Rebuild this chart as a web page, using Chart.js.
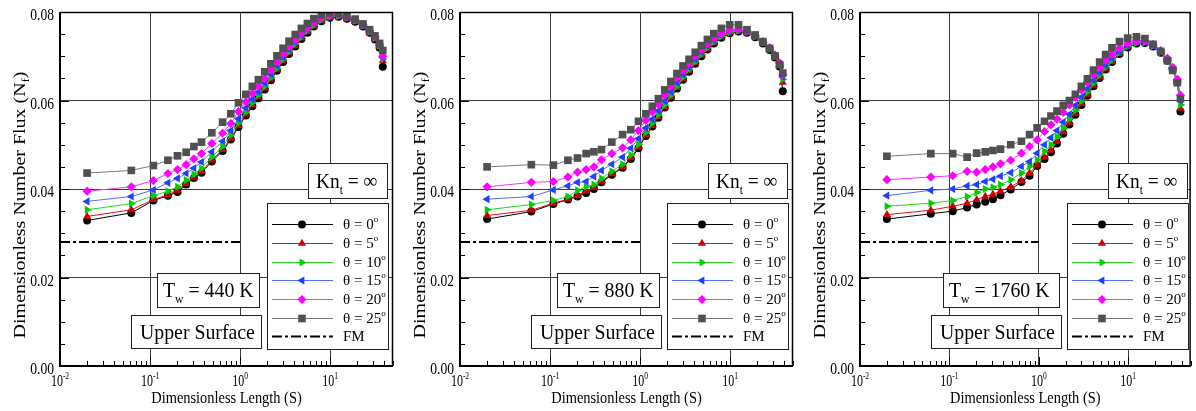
<!DOCTYPE html>
<html>
<head>
<meta charset="utf-8">
<script src="https://cdn.jsdelivr.net/npm/chart.js@4.4.1/dist/chart.umd.min.js"></script>
<style>
  html, body { margin: 0; padding: 0; background: #fff; }
  #wrap { position: relative; width: 1196px; height: 411px; overflow: hidden; }
  canvas { position: absolute; top: 0; }
</style>
</head>
<body>
<div id="wrap">
  <canvas id="p440" width="400" height="411" style="left:0px"></canvas>
  <canvas id="p880" width="400" height="411" style="left:400px"></canvas>
  <canvas id="p1760" width="396" height="411" style="left:800px"></canvas>
</div>
<script>
// Dimensionless length along the surface (shared by every curve)
const S = [0.02, 0.062, 0.109, 0.158, 0.202, 0.252, 0.307, 0.373, 0.486, 0.64,
           0.79, 0.96, 1.16, 1.37, 1.6, 1.88, 2.2, 2.57, 3.0, 3.5,
           4.1, 4.8, 5.6, 6.6, 8.0, 9.9, 12.4, 15.4, 19.0, 23.2,
           27.5, 31.5, 35.5, 38.5];

// Free molecular reference level
const FM_S = [0.01, 1];
const FM_N = [0.028, 0.028];

const ANGLES = [0, 5, 10, 15, 20, 25];
const X_TICKS = [0.01, 0.1, 1, 10];
const Y_TICKS = [0, 0.02, 0.04, 0.06, 0.08];

// Tw = 440 K
const N440_0  = [0.0329, 0.0346, 0.0374, 0.0385, 0.0393, 0.0410, 0.0425, 0.0437, 0.0462, 0.0486, 0.0512, 0.0540, 0.0566, 0.0587, 0.0605, 0.0625, 0.0646, 0.0667, 0.0687, 0.0705, 0.0722, 0.0739, 0.0753, 0.0767, 0.0779, 0.0787, 0.0789, 0.0785, 0.0778, 0.0767, 0.0753, 0.0738, 0.0719, 0.0676];
const N440_5  = [0.0338, 0.0353, 0.0376, 0.0387, 0.0397, 0.0412, 0.0427, 0.0440, 0.0465, 0.0489, 0.0515, 0.0543, 0.0569, 0.0590, 0.0608, 0.0628, 0.0648, 0.0669, 0.0689, 0.0707, 0.0724, 0.0741, 0.0755, 0.0768, 0.0780, 0.0788, 0.0790, 0.0786, 0.0779, 0.0768, 0.0754, 0.0740, 0.0722, 0.0690];
const N440_10 = [0.0353, 0.0367, 0.0385, 0.0395, 0.0405, 0.0420, 0.0433, 0.0447, 0.0472, 0.0496, 0.0522, 0.0549, 0.0574, 0.0595, 0.0612, 0.0632, 0.0652, 0.0673, 0.0692, 0.0710, 0.0727, 0.0743, 0.0757, 0.0770, 0.0782, 0.0789, 0.0791, 0.0787, 0.0780, 0.0769, 0.0755, 0.0741, 0.0724, 0.0694];
const N440_15 = [0.0372, 0.0383, 0.0398, 0.0414, 0.0424, 0.0435, 0.0447, 0.0461, 0.0484, 0.0508, 0.0532, 0.0559, 0.0583, 0.0603, 0.0620, 0.0639, 0.0659, 0.0679, 0.0698, 0.0715, 0.0731, 0.0747, 0.0760, 0.0773, 0.0784, 0.0791, 0.0792, 0.0788, 0.0781, 0.0770, 0.0756, 0.0742, 0.0725, 0.0697];
const N440_20 = [0.0395, 0.0405, 0.0419, 0.0435, 0.0444, 0.0455, 0.0468, 0.0480, 0.0503, 0.0526, 0.0548, 0.0575, 0.0597, 0.0616, 0.0632, 0.0650, 0.0669, 0.0688, 0.0706, 0.0722, 0.0737, 0.0752, 0.0764, 0.0776, 0.0787, 0.0793, 0.0794, 0.0789, 0.0782, 0.0772, 0.0758, 0.0744, 0.0727, 0.0700];
const N440_25 = [0.0436, 0.0442, 0.0453, 0.0465, 0.0475, 0.0483, 0.0496, 0.0506, 0.0527, 0.0551, 0.0570, 0.0595, 0.0614, 0.0632, 0.0647, 0.0665, 0.0683, 0.0701, 0.0718, 0.0734, 0.0749, 0.0763, 0.0774, 0.0785, 0.0794, 0.0798, 0.0797, 0.0791, 0.0784, 0.0773, 0.0760, 0.0746, 0.0729, 0.0713];

// Tw = 880 K
const N880_0  = [0.0332, 0.0349, 0.0366, 0.0376, 0.0383, 0.0391, 0.0400, 0.0415, 0.0432, 0.0448, 0.0468, 0.0492, 0.0520, 0.0541, 0.0561, 0.0584, 0.0606, 0.0627, 0.0647, 0.0665, 0.0683, 0.0700, 0.0715, 0.0729, 0.0742, 0.0752, 0.0756, 0.0753, 0.0743, 0.0729, 0.0714, 0.0697, 0.0677, 0.0621];
const N880_5  = [0.0340, 0.0352, 0.0368, 0.0377, 0.0385, 0.0395, 0.0403, 0.0418, 0.0434, 0.0450, 0.0471, 0.0495, 0.0522, 0.0543, 0.0563, 0.0586, 0.0608, 0.0629, 0.0649, 0.0667, 0.0685, 0.0702, 0.0716, 0.0730, 0.0743, 0.0753, 0.0757, 0.0754, 0.0744, 0.0730, 0.0715, 0.0699, 0.0680, 0.0641];
const N880_10 = [0.0353, 0.0365, 0.0374, 0.0383, 0.0397, 0.0405, 0.0410, 0.0424, 0.0440, 0.0456, 0.0477, 0.0501, 0.0528, 0.0549, 0.0568, 0.0590, 0.0612, 0.0632, 0.0652, 0.0670, 0.0687, 0.0704, 0.0719, 0.0732, 0.0745, 0.0754, 0.0758, 0.0755, 0.0745, 0.0731, 0.0716, 0.0700, 0.0682, 0.0648];
const N880_15 = [0.0377, 0.0383, 0.0398, 0.0407, 0.0415, 0.0417, 0.0428, 0.0442, 0.0456, 0.0472, 0.0492, 0.0514, 0.0538, 0.0558, 0.0577, 0.0599, 0.0620, 0.0640, 0.0659, 0.0676, 0.0693, 0.0709, 0.0723, 0.0736, 0.0747, 0.0756, 0.0759, 0.0756, 0.0746, 0.0732, 0.0717, 0.0701, 0.0683, 0.0653];
const N880_20 = [0.0405, 0.0415, 0.0417, 0.0427, 0.0438, 0.0444, 0.0450, 0.0466, 0.0480, 0.0493, 0.0511, 0.0532, 0.0555, 0.0574, 0.0592, 0.0612, 0.0632, 0.0651, 0.0668, 0.0684, 0.0700, 0.0715, 0.0728, 0.0740, 0.0751, 0.0759, 0.0761, 0.0757, 0.0747, 0.0733, 0.0719, 0.0703, 0.0685, 0.0659];
const N880_25 = [0.0450, 0.0455, 0.0454, 0.0465, 0.0470, 0.0480, 0.0484, 0.0489, 0.0506, 0.0523, 0.0534, 0.0553, 0.0570, 0.0587, 0.0604, 0.0624, 0.0643, 0.0661, 0.0678, 0.0693, 0.0709, 0.0724, 0.0738, 0.0751, 0.0763, 0.0771, 0.0771, 0.0760, 0.0748, 0.0733, 0.0718, 0.0701, 0.0681, 0.0662];

// Tw = 1760 K
const N1760_0  = [0.0332, 0.0344, 0.0350, 0.0358, 0.0365, 0.0371, 0.0377, 0.0386, 0.0399, 0.0416, 0.0430, 0.0452, 0.0468, 0.0483, 0.0503, 0.0525, 0.0546, 0.0568, 0.0590, 0.0611, 0.0632, 0.0651, 0.0670, 0.0687, 0.0705, 0.0720, 0.0729, 0.0730, 0.0722, 0.0708, 0.0690, 0.0670, 0.0642, 0.0575];
const N1760_5  = [0.0342, 0.0352, 0.0361, 0.0368, 0.0376, 0.0383, 0.0388, 0.0395, 0.0405, 0.0419, 0.0436, 0.0455, 0.0472, 0.0487, 0.0507, 0.0529, 0.0550, 0.0571, 0.0593, 0.0614, 0.0634, 0.0653, 0.0671, 0.0688, 0.0706, 0.0721, 0.0730, 0.0731, 0.0723, 0.0709, 0.0691, 0.0671, 0.0643, 0.0582];
const N1760_10 = [0.0361, 0.0368, 0.0374, 0.0383, 0.0392, 0.0400, 0.0404, 0.0410, 0.0421, 0.0436, 0.0451, 0.0466, 0.0485, 0.0500, 0.0518, 0.0538, 0.0558, 0.0578, 0.0599, 0.0619, 0.0639, 0.0657, 0.0675, 0.0691, 0.0708, 0.0722, 0.0730, 0.0731, 0.0723, 0.0709, 0.0691, 0.0671, 0.0644, 0.0590];
const N1760_15 = [0.0385, 0.0397, 0.0400, 0.0407, 0.0410, 0.0417, 0.0422, 0.0429, 0.0437, 0.0451, 0.0462, 0.0481, 0.0500, 0.0516, 0.0532, 0.0551, 0.0569, 0.0589, 0.0608, 0.0627, 0.0646, 0.0663, 0.0680, 0.0695, 0.0710, 0.0723, 0.0731, 0.0732, 0.0724, 0.0710, 0.0692, 0.0672, 0.0645, 0.0600];
const N1760_20 = [0.0421, 0.0427, 0.0430, 0.0440, 0.0438, 0.0444, 0.0450, 0.0457, 0.0465, 0.0481, 0.0496, 0.0511, 0.0530, 0.0545, 0.0558, 0.0573, 0.0590, 0.0607, 0.0624, 0.0641, 0.0659, 0.0675, 0.0690, 0.0704, 0.0718, 0.0729, 0.0735, 0.0735, 0.0727, 0.0713, 0.0695, 0.0675, 0.0648, 0.0612];
const N1760_25 = [0.0474, 0.0480, 0.0480, 0.0472, 0.0481, 0.0484, 0.0487, 0.0490, 0.0500, 0.0508, 0.0523, 0.0538, 0.0553, 0.0565, 0.0576, 0.0589, 0.0600, 0.0614, 0.0632, 0.0649, 0.0669, 0.0687, 0.0704, 0.0719, 0.0733, 0.0741, 0.0744, 0.0740, 0.0727, 0.0711, 0.0690, 0.0668, 0.0640, 0.0604];

const FONT = '"Liberation Serif", "Times New Roman", serif';

// marker / line style per angle
const STYLE = [
  { fill: '#000000', line: '#000000', shape: 'circle',   rot: 0,   r: 4.0 },
  { fill: '#d00000', line: '#e01010', shape: 'triangle', rot: 0,   r: 4.7 },
  { fill: '#00cc00', line: '#20d820', shape: 'triangle', rot: 90,  r: 4.7 },
  { fill: '#2040ff', line: '#5070ff', shape: 'triangle', rot: 270, r: 4.7 },
  { fill: '#ff00ff', line: '#ff30ff', shape: 'rectRot',  rot: 0,   r: 4.6 },
  { fill: '#505050', line: '#7a7a7a', shape: 'rect',     rot: 0,   r: 5.4 }
];

// draws a run of text pieces (sub/superscripts via dy), squeezed horizontally
function drawRich(ctx, segs, x, y, align, squeeze, rot) {
  ctx.save();
  ctx.translate(x, y);
  if (rot) {
    ctx.rotate(rot);
    ctx.scale(1, squeeze);
  } else {
    ctx.scale(squeeze, 1);
  }
  ctx.textBaseline = 'alphabetic';
  ctx.textAlign = 'left';
  ctx.fillStyle = '#000';
  let w = 0;
  segs.forEach(s => { ctx.font = s.size + 'px ' + FONT; w += ctx.measureText(s.t).width; });
  let cx = align === 'center' ? -w / 2 : (align === 'right' ? -w : 0);
  segs.forEach(s => {
    ctx.font = s.size + 'px ' + FONT;
    ctx.fillText(s.t, cx, s.dy || 0);
    cx += ctx.measureText(s.t).width;
  });
  ctx.restore();
}

function drawBox(ctx, x0, y0, x1, y1) {
  ctx.save();
  ctx.fillStyle = '#fff';
  ctx.fillRect(x0, y0, x1 - x0, y1 - y0);
  ctx.strokeStyle = '#222';
  ctx.lineWidth = 1;
  ctx.strokeRect(x0 + 0.5, y0 + 0.5, x1 - x0, y1 - y0);
  ctx.restore();
}

function hline(ctx, x0, y0, x1, y1) {
  ctx.beginPath();
  ctx.moveTo(x0, y0);
  ctx.lineTo(x1, y1);
  ctx.stroke();
}

// frame, inward ticks, tick labels, titles, annotation boxes and legend
const decor = {
  id: 'decor',
  afterDraw(chart, args, opts) {
    const ctx = chart.ctx;
    const a = chart.chartArea;
    const xs = chart.scales.x;
    const ys = chart.scales.y;
    ctx.save();
    ctx.strokeStyle = '#000';

    // minor / major ticks pointing inward
    ctx.lineWidth = 1;
    for (let d = -2; d <= 1; d++) {
      for (let m = 1; m <= 9; m++) {
        const v = m * Math.pow(10, d);
        if (v > xs.max) continue;
        const px = Math.round(xs.getPixelForValue(v)) + 0.5;
        hline(ctx, px, a.bottom, px, a.bottom - (m === 1 ? 9 : 5));
      }
    }
    for (let k = 0; k <= 16; k++) {
      const py = Math.round(ys.getPixelForValue(k * 0.005)) + 0.5;
      hline(ctx, a.left, py, a.left + (k % 4 === 0 ? 9 : 5), py);
    }

    // frame
    ctx.lineWidth = 1.5;
    hline(ctx, a.left, a.top + 0.5, a.right, a.top + 0.5);
    hline(ctx, a.right - 0.5, a.top, a.right - 0.5, a.bottom);
    ctx.lineWidth = 2;
    hline(ctx, a.left - 1, a.bottom, a.right, a.bottom);
    hline(ctx, a.left, a.top, a.left, a.bottom + 1);

    // tick labels
    Y_TICKS.forEach(v => {
      drawRich(ctx, [{ t: v.toFixed(2), size: 17 }], a.left - 6, ys.getPixelForValue(v) + 8, 'right', 0.8);
    });
    X_TICKS.forEach(v => {
      const e = Math.round(Math.log10(v));
      drawRich(ctx, [{ t: '10', size: 16 }, { t: String(e), size: 10, dy: -7 }],
        xs.getPixelForValue(v), 386, 'center', 0.75);
    });

    // axis titles
    drawRich(ctx, [{ t: 'Dimensionless Length (S)', size: 16 }], (a.left + a.right) / 2, 403, 'center', 0.9);
    drawRich(ctx, [{ t: 'Dimensionless Number Flux (N', size: 20 }, { t: 'f', size: 12, dy: 5 }, { t: ')', size: 20 }],
      25, 205, 'center', 0.8, -Math.PI / 2);

    // annotation boxes
    drawBox(ctx, 308, 163, 387, 198);
    drawRich(ctx, [{ t: 'Kn', size: 22 }, { t: 't', size: 13, dy: 6 }, { t: ' = ∞', size: 22 }], 316, 188, 'left', 0.88);

    drawBox(ctx, opts.twLeft, 273, 259, 307);
    drawRich(ctx, [{ t: 'T', size: 22 }, { t: 'w', size: 13, dy: 6 }, { t: ' = ' + opts.temp + ' K', size: 22 }],
      opts.twLeft + 6, 297, 'left', 0.9);

    drawBox(ctx, 131, 315, 261, 348);
    drawRich(ctx, [{ t: 'Upper Surface', size: 22 }], 140, 339, 'left', 0.9);

    // legend
    drawBox(ctx, 267, 203, 388, 349);
    const rowY = k => 224.3 + k * 18.67;
    STYLE.forEach((st, k) => {
      const y = Math.round(rowY(k)) + 0.5;
      ctx.strokeStyle = st.line;
      ctx.lineWidth = 1;
      hline(ctx, 272, y, 333, y);
      ctx.fillStyle = st.fill;
      Chart.helpers.drawPoint(ctx, { pointStyle: st.shape, rotation: st.rot, radius: st.r, borderWidth: 0 }, 302, y);
      drawRich(ctx, [{ t: 'θ = ' + ANGLES[k], size: 15 }, { t: 'o', size: 9, dy: -7 }], 343, rowY(k) + 5, 'left', 1);
    });
    const fy = Math.round(rowY(6)) + 0.5;
    ctx.strokeStyle = '#000';
    ctx.lineWidth = 2;
    ctx.setLineDash([10, 3, 3, 3]);
    hline(ctx, 272, fy, 333, fy);
    ctx.setLineDash([]);
    drawRich(ctx, [{ t: 'FM', size: 15 }], 343, rowY(6) + 5, 'left', 1);

    ctx.restore();
  }
};

function makePanel(id, temp, series, rightPad, twLeft) {
  const datasets = series.map((vals, i) => ({
    label: 'θ = ' + ANGLES[i],
    data: S.map((s, j) => ({ x: s, y: vals[j] })),
    borderColor: STYLE[i].line,
    backgroundColor: STYLE[i].fill,
    pointBackgroundColor: STYLE[i].fill,
    pointBorderColor: STYLE[i].fill,
    pointBorderWidth: 0,
    pointStyle: STYLE[i].shape,
    pointRotation: STYLE[i].rot,
    pointRadius: STYLE[i].r,
    borderWidth: 1,
    tension: 0,
    order: 6 - i
  }));
  datasets.push({
    label: 'FM',
    data: FM_S.map((s, j) => ({ x: s, y: FM_N[j] })),
    borderColor: '#000',
    borderWidth: 2,
    borderDash: [10, 3, 3, 3],
    pointRadius: 0,
    order: 7
  });

  const gridOpts = { color: '#3c3c3c', lineWidth: 1, drawTicks: false };

  return new Chart(document.getElementById(id), {
    type: 'line',
    data: { datasets: datasets },
    options: {
      responsive: false,
      animation: false,
      devicePixelRatio: 1,
      layout: { padding: { left: 0, right: rightPad, top: 12, bottom: 0 } },
      plugins: {
        legend: { display: false },
        tooltip: { enabled: false },
        decor: { temp: temp, twLeft: twLeft }
      },
      scales: {
        x: {
          type: 'logarithmic',
          min: 0.01,
          max: 50,
          afterBuildTicks: s => { s.ticks = X_TICKS.map(v => ({ value: v })); },
          afterFit: s => { s.height = 45; },
          ticks: { display: false },
          grid: gridOpts,
          border: { display: false }
        },
        y: {
          min: 0,
          max: 0.08,
          afterBuildTicks: s => { s.ticks = Y_TICKS.map(v => ({ value: v })); },
          afterFit: s => { s.width = 60; },
          ticks: { display: false },
          grid: gridOpts,
          border: { display: false }
        }
      }
    },
    plugins: [decor]
  });
}

makePanel('p440', '440', [N440_0, N440_5, N440_10, N440_15, N440_20, N440_25], 7, 157);
makePanel('p880', '880', [N880_0, N880_5, N880_10, N880_15, N880_20, N880_25], 7, 157);
makePanel('p1760', '1760', [N1760_0, N1760_5, N1760_10, N1760_15, N1760_20, N1760_25], 2, 143);
</script>
</body>
</html>
